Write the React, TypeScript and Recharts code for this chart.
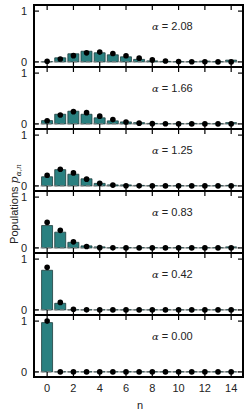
import { ComposedChart, Bar, Scatter, XAxis, YAxis, ReferenceLine } from "recharts"

const nValues = [0, 1, 2, 3, 4, 5, 6, 7, 8, 9, 10, 11, 12, 13, 14]
const xTicks = [0, 2, 4, 6, 8, 10, 12, 14]
const yTicks = [0, 1]
const alphas = ["2.08", "1.66", "1.25", "0.83", "0.42", "0.00"]

// measured populations (bars) and theory (dots), one pair per alpha
const bars208 = [0.005, 0.08, 0.16, 0.21, 0.18, 0.14, 0.1, 0.05, 0.02, 0.01, 0.005, 0.005, 0.015, 0.005, 0.035]
const dots208 = [0.013, 0.057, 0.123, 0.178, 0.193, 0.167, 0.12, 0.074, 0.04, 0.019, 0.008, 0.003, 0.001, 0, 0]
const bars166 = [0.065, 0.19, 0.25, 0.19, 0.12, 0.06, 0.04, 0.025, 0.01, 0.005, 0.005, 0.01, 0.01, 0.005, 0.025]
const dots166 = [0.063, 0.175, 0.241, 0.222, 0.153, 0.085, 0.039, 0.015, 0.005, 0.002, 0, 0, 0, 0, 0]
const bars125 = [0.18, 0.32, 0.23, 0.14, 0.05, 0.02, 0.02, 0.01, 0.005, 0.005, 0.005, 0.005, 0.005, 0.005, 0.01]
const dots125 = [0.21, 0.327, 0.256, 0.133, 0.052, 0.016, 0.004, 0.001, 0, 0, 0, 0, 0, 0, 0]
const bars083 = [0.44, 0.31, 0.11, 0.04, 0.02, 0.005, 0.005, 0.005, 0.005, 0.005, 0.005, 0.005, 0.005, 0.005, 0.02]
const dots083 = [0.502, 0.346, 0.119, 0.027, 0.005, 0.001, 0, 0, 0, 0, 0, 0, 0, 0, 0]
const bars042 = [0.78, 0.13, 0.005, 0.003, 0.003, 0.003, 0.003, 0.003, 0.003, 0.003, 0.003, 0.003, 0.003, 0.003, 0.005]
const dots042 = [0.838, 0.148, 0.013, 0.001, 0, 0, 0, 0, 0, 0, 0, 0, 0, 0, 0]
const bars000 = [0.97, 0.003, 0.003, 0.003, 0.003, 0.003, 0.003, 0.003, 0.003, 0.003, 0.003, 0.003, 0.003, 0.003, 0.003]
const dots000 = [1, 0, 0, 0, 0, 0, 0, 0, 0, 0, 0, 0, 0, 0, 0]

const barSets = [bars208, bars166, bars125, bars083, bars042, bars000]
const dotSets = [dots208, dots166, dots125, dots083, dots042, dots000]

const TOP = 5
const PANEL_H = 62
const LEFT = 34
const RIGHT = 243
const W = 250
const FONT = "'Liberation Sans', Arial, sans-serif"

function XTick(props: any) {
  const { x, payload, showLabel } = props
  return (
    <g>
      <line x1={x} x2={x} y1={PANEL_H} y2={PANEL_H - 5} stroke="#000" strokeWidth={1.2} />
      <line x1={x} x2={x} y1={0} y2={5} stroke="#000" strokeWidth={1.2} />
      {showLabel && (
        <text x={x} y={PANEL_H + 15} textAnchor="middle" fontSize={11} fill="#222" fontFamily={FONT}>
          {payload.value}
        </text>
      )}
    </g>
  )
}

function YTick(props: any) {
  const { y, payload } = props
  return (
    <g>
      <line x1={LEFT} x2={LEFT + 5} y1={y} y2={y} stroke="#000" strokeWidth={1.2} />
      <line x1={RIGHT - 5} x2={RIGHT} y1={y} y2={y} stroke="#000" strokeWidth={1.2} />
      <text x={LEFT - 7} y={y} dy="0.35em" textAnchor="end" fontSize={11} fill="#222" fontFamily={FONT}>
        {payload.value}
      </text>
    </g>
  )
}

const Dot = (props: any) => <circle cx={props.cx} cy={props.cy} r={2.8} fill="#000" />

function Panel({ index }: { index: number }) {
  const last = index === alphas.length - 1
  const data = nValues.map((n, i) => ({ n, bar: barSets[index][i], dot: dotSets[index][i] }))
  const h = last ? PANEL_H + 30 : PANEL_H + 1
  // axes get 1px so they still render; margins make the plot area 34..243 x 0..62
  return (
    <div style={{ position: "absolute", left: 0, top: TOP + index * PANEL_H }}>
      <ComposedChart
        width={W}
        height={h}
        data={data}
        margin={{ top: 0, right: W - RIGHT, bottom: h - PANEL_H - 1, left: LEFT - 1 }}
      >
        <XAxis
          dataKey="n"
          type="number"
          domain={[-1, 14.9]}
          ticks={xTicks}
          interval={0}
          height={1}
          axisLine={false}
          tickLine={false}
          tick={<XTick showLabel={last} />}
          allowDataOverflow
        />
        <YAxis
          type="number"
          domain={[-0.1, 1.12]}
          ticks={yTicks}
          interval={0}
          width={1}
          axisLine={false}
          tickLine={false}
          tick={<YTick />}
          allowDataOverflow
        />
        <ReferenceLine y={0} stroke="#888" strokeDasharray="4 2.5" strokeWidth={1} />
        <Bar dataKey="bar" barSize={11} fill="#2a8080" stroke="#1e3c3c" strokeWidth={0.8} isAnimationActive={false} />
        <Scatter dataKey="dot" shape={Dot} isAnimationActive={false} />
      </ComposedChart>
    </div>
  )
}

export default function App() {
  const bottom = TOP + PANEL_H * alphas.length
  return (
    <div style={{ position: "absolute", left: 0, top: 0, width: W, height: 417, background: "#fff" }}>
      {alphas.map((_, i) => (
        <Panel key={i} index={i} />
      ))}
      <svg width={W} height={417} style={{ position: "absolute", left: 0, top: 0, pointerEvents: "none" }}>
        <rect x={LEFT} y={TOP} width={RIGHT - LEFT} height={bottom - TOP} fill="none" stroke="#000" strokeWidth={2} />
        {alphas.slice(1).map((_, i) => (
          <line key={i} x1={LEFT} x2={RIGHT} y1={TOP + PANEL_H * (i + 1)} y2={TOP + PANEL_H * (i + 1)} stroke="#000" strokeWidth={2} />
        ))}
        {alphas.map((a, i) => (
          <text key={a} x={152} y={TOP + PANEL_H * i + 25} fontSize={11} fill="#222" fontFamily={FONT}>
            <tspan fontStyle="italic" fontFamily="'DejaVu Serif', serif" fontSize={10}>α</tspan> = {a}
          </text>
        ))}
        <text transform="translate(18,204) rotate(-90)" textAnchor="middle" fontSize={11} fill="#222" fontFamily={FONT}>
          Populations <tspan fontStyle="italic" fontFamily="'DejaVu Serif', serif">p</tspan>
          <tspan dy={2.5} fontSize={7.5} fontStyle="italic" fontFamily="'DejaVu Serif', serif">α,n</tspan>
        </text>
        <text x={140} y={409} textAnchor="middle" fontSize={11} fill="#222" fontFamily={FONT}>
          n
        </text>
      </svg>
    </div>
  )
}
